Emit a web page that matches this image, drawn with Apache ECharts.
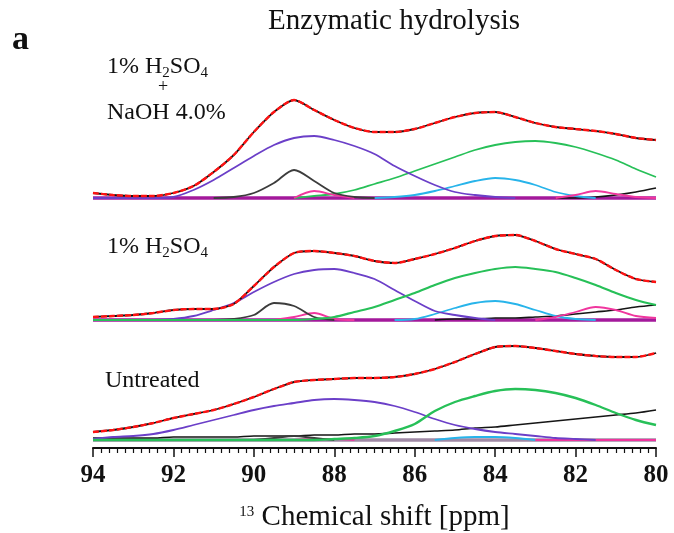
<!DOCTYPE html>
<html>
<head>
<meta charset="utf-8">
<script src="https://cdn.jsdelivr.net/npm/echarts@6/dist/echarts.min.js"></script>
<style>
  html, body { margin: 0; padding: 0; background: #fff; }
  #chart { width: 674px; height: 533px; }
</style>
</head>
<body>
<div id="chart"></div>
<script>
// Chemical shift grid (ppm), shared by every spectrum
const ppm = [94, 93.5, 93, 92.5, 92, 91.5, 91, 90.5, 90, 89.5, 89, 88.5, 88, 87.5, 87,
             86.5, 86, 85.5, 85, 84.5, 84, 83.5, 83, 82.5, 82, 81.5, 81, 80.5, 80];
const ppmTicks = [94, 92, 90, 88, 86, 84, 82, 80];

// 1% H2SO4 + NaOH 4.0%
const fitAcidAlkali    = [5, 3, 2, 2, 5, 12, 26, 43, 66, 86, 98, 88, 78, 70, 66, 66, 69, 75, 81, 85, 86, 81, 75, 71, 69, 67, 64, 60, 58];
const purpleAcidAlkali = [0, 0, 0, 0, 1, 8, 18, 30, 42, 53, 60, 62, 58, 52, 44, 32, 22, 13, 6, 3, 1, 0, null, null, null, null, null, null, null];
const blackAcidAlkali  = [null, null, null, null, null, null, 0, 1, 5, 15, 28, 17, 5, 1, 0, null, null, null, null, null, null, null, null, null, null, null, null, null, null];
const pinkAcidAlkali   = [null, null, null, null, null, null, null, null, null, null, 0, 7, 3, 0, null, null, null, null, null, null, null, null, null, 0, 3, 7, 4, 1, 0];
const greenAcidAlkali  = [null, null, null, null, null, null, null, null, null, null, 0, 2, 4, 8, 14, 20, 27, 34, 41, 48, 53, 56, 57, 55, 51, 45, 38, 29, 21];
const cyanAcidAlkali   = [null, null, null, null, null, null, null, null, null, null, null, null, null, null, 0, 1, 3, 7, 12, 17, 20, 18, 13, 6, 2, 0, null, null, null];
const driftAcidAlkali  = [null, null, null, null, null, null, null, null, null, null, null, null, null, null, null, null, null, null, null, null, null, null, null, 0, 0, 1, 3, 6, 10];

// 1% H2SO4
const fitAcid    = [3, 4, 5, 7, 10, 11, 11, 16, 34, 53, 67, 69, 67, 64, 59, 57, 61, 66, 72, 79, 84, 85, 79, 71, 66, 61, 50, 41, 38];
const purpleAcid = [null, null, null, 0, 1, 4, 10, 17, 28, 38, 46, 50, 51, 47, 41, 30, 19, 9, 5, 2, 0, null, null, null, null, null, null, null, null];
const blackAcid  = [null, null, null, null, null, null, 0, 1, 5, 17, 14, 3, 0, null, null, null, null, null, null, null, null, null, null, null, null, null, null, null, null];
const pinkAcid   = [null, null, null, null, null, null, null, null, null, 0, 3, 7, 1, 0, null, null, null, null, null, null, null, null, 0, 3, 8, 13, 10, 4, 2];
const greenAcid  = [0, 0, 0, 0, 0, 0, 0, 0, 0, 0, 0, 1, 3, 8, 13, 20, 27, 35, 42, 47, 51, 53, 51, 48, 42, 35, 27, 20, 15];
const cyanAcid   = [null, null, null, null, null, null, null, null, null, null, null, null, null, null, null, 0, 1, 6, 12, 17, 19, 16, 10, 4, 1, 0, null, null, null];
const driftAcid  = [null, null, null, null, null, null, null, null, null, null, null, null, null, null, null, null, null, 0, 1, 1, 2, 2, 3, 4, 6, 8, 10, 13, 15];

// Untreated
const fitUntreated    = [8, 10, 13, 17, 22, 26, 30, 36, 43, 51, 58, 60, 61, 62, 62, 63, 66, 71, 78, 86, 93, 94, 92, 89, 86, 84, 83, 83, 87];
const purpleUntreated = [1, 3, 4, 6, 10, 15, 20, 25, 30, 34, 37, 40, 41, 40, 38, 34, 28, 21, 15, 11, 8, 6, 4, 2, 1, 0, null, null, null];
const blackUntreated  = [null, null, null, null, null, null, null, null, 0, 2, 4, 2, 0, null, null, null, null, null, null, null, null, null, null, null, null, null, null, null, null];
const pinkUntreated   = [null, null, null, null, null, null, null, null, null, null, 0, 1, 1, 0, null, null, null, null, null, null, null, null, 0, 0, 0, 0, 0, 0, 0];
const greenUntreated  = [0, 0, 0, 0, 0, 0, 0, 0, 0, 0, 0, 0, 1, 2, 4, 9, 16, 29, 38, 44, 49, 51, 50, 47, 42, 35, 27, 20, 15];
const cyanUntreated   = [null, null, null, null, null, null, null, null, null, null, null, null, null, null, null, null, null, 0, 2, 3, 3, 2, 0, null, null, null, null, null, null];
const driftUntreated  = [2, 2, 2, 2, 3, 3, 3, 3, 4, 4, 4, 5, 5, 6, 6, 7, 8, 9, 10, 12, 13, 15, 17, 19, 21, 23, 25, 27, 30];

const SERIF = '"Liberation Serif", "Times New Roman", serif';
const C = {
  fit: '#ff1212', exp: '#111111', purple: '#6b3fc8', green: '#27c058',
  cyan: '#28b4ea', pink: '#f0369e', peak: '#3c3c3c', drift: '#151515'
};

function curve(panel, values, color, width, extra) {
  return Object.assign({
    type: 'line',
    xAxisIndex: panel,
    yAxisIndex: panel,
    data: ppm.map((p, i) => [p, values[i] == null ? '-' : values[i]]),
    symbol: 'none',
    showSymbol: false,
    smooth: 0.3,
    silent: true,
    animation: false,
    lineStyle: { color: color, width: width }
  }, extra || {});
}

function baseline(color) {
  return {
    markLine: {
      silent: true,
      z: 1,
      symbol: ['none', 'none'],
      label: { show: false },
      emphasis: { disabled: true },
      animation: false,
      lineStyle: { color: color, width: 3.5, type: 'solid' },
      data: [{ yAxis: 0 }]
    }
  };
}

function spectrum(panel, fit) {
  return [
    curve(panel, fit, C.exp, 1.8, { smooth: 0.25 }),
    curve(panel, fit, C.fit, 2.4, { smooth: 0.25, lineStyle: { color: C.fit, width: 2.4, type: [6, 2] } })
  ];
}

const series = [
  // top panel
  curve(0, driftAcidAlkali, C.drift, 1.6, baseline('#a3199b')),
  curve(0, cyanAcidAlkali, C.cyan, 1.8),
  curve(0, greenAcidAlkali, C.green, 1.8),
  curve(0, pinkAcidAlkali, C.pink, 1.8),
  curve(0, blackAcidAlkali, C.peak, 1.8),
  curve(0, purpleAcidAlkali, C.purple, 1.8),
  ...spectrum(0, fitAcidAlkali),
  // middle panel
  curve(1, driftAcid, C.drift, 1.6, baseline('#a3199b')),
  curve(1, cyanAcid, C.cyan, 1.8),
  curve(1, pinkAcid, C.pink, 1.8),
  curve(1, blackAcid, C.peak, 1.8),
  curve(1, purpleAcid, C.purple, 1.8),
  curve(1, greenAcid, C.green, 2.2),
  ...spectrum(1, fitAcid),
  // bottom panel
  curve(2, driftUntreated, C.drift, 1.6, baseline('#a08aa6')),
  curve(2, cyanUntreated, C.cyan, 1.8),
  curve(2, pinkUntreated, C.pink, 1.8),
  curve(2, blackUntreated, C.peak, 1.8),
  curve(2, purpleUntreated, C.purple, 1.8),
  curve(2, greenUntreated, C.green, 2.4),
  ...spectrum(2, fitUntreated)
];

const hiddenX = (i) => ({
  type: 'value', gridIndex: i, min: 80, max: 94, inverse: true, show: false
});

const panelGrid = (top) => ({
  left: 93, right: 18, top: top, height: 112, containLabel: false, outerBoundsMode: 'none'
});

const option = {
  backgroundColor: '#fff',
  animation: false,
  grid: [panelGrid(88), panelGrid(210), panelGrid(336)],
  xAxis: [
    hiddenX(0),
    hiddenX(1),
    {
      type: 'value', gridIndex: 2, min: 80, max: 94, interval: 2, inverse: true,
      axisLine: { show: true, onZero: false, lineStyle: { color: '#111', width: 2 } },
      axisTick: { show: true, inside: false, length: 9, lineStyle: { color: '#111', width: 1.5 } },
      minorTick: { show: true, splitNumber: 10, length: 5, lineStyle: { color: '#111', width: 1.2 } },
      splitLine: { show: false },
      axisLabel: {
        margin: 15, color: '#111', fontFamily: SERIF, fontSize: 25, fontWeight: 'bold',
        formatter: (v) => (ppmTicks.includes(v) ? String(v) : '')
      },
      name: '{sup|13} Chemical shift [ppm]',
      nameLocation: 'middle',
      nameGap: 55,
      nameTextStyle: {
        color: '#111', fontFamily: SERIF, fontSize: 29,
        rich: { sup: { fontFamily: SERIF, fontSize: 15, color: '#111', padding: [0, 0, 11, 0] } }
      }
    }
  ],
  yAxis: [
    { type: 'value', gridIndex: 0, min: -2, max: 110, show: false },
    { type: 'value', gridIndex: 1, min: -2, max: 110, show: false },
    { type: 'value', gridIndex: 2, min: -8, max: 104, show: false }
  ],
  graphic: [
    { type: 'text', x: 12, y: 40, style: { text: 'a', font: 'bold 34px ' + SERIF, fill: '#111', align: 'left', verticalAlign: 'middle' } },
    { type: 'text', x: 394, y: 21, style: { text: 'Enzymatic hydrolysis', font: '29px ' + SERIF, fill: '#111', align: 'center', verticalAlign: 'middle' } },
    { type: 'text', x: 107, y: 67, style: {
        text: '1% H{sub|2}SO{sub|4}', font: '24px ' + SERIF, fill: '#111', align: 'left', verticalAlign: 'middle',
        rich: { sub: { fontFamily: SERIF, fontSize: 15, fill: '#111', padding: [12, 0, 0, 0] } } } },
    { type: 'text', x: 163, y: 87, style: { text: '+', font: '18px ' + SERIF, fill: '#111', align: 'center', verticalAlign: 'middle' } },
    { type: 'text', x: 107, y: 113, style: { text: 'NaOH 4.0%', font: '24px ' + SERIF, fill: '#111', align: 'left', verticalAlign: 'middle' } },
    { type: 'text', x: 107, y: 247, style: {
        text: '1% H{sub|2}SO{sub|4}', font: '24px ' + SERIF, fill: '#111', align: 'left', verticalAlign: 'middle',
        rich: { sub: { fontFamily: SERIF, fontSize: 15, fill: '#111', padding: [12, 0, 0, 0] } } } },
    { type: 'text', x: 105, y: 381, style: { text: 'Untreated', font: '24px ' + SERIF, fill: '#111', align: 'left', verticalAlign: 'middle' } }
  ],
  series: series
};

const chart = echarts.init(document.getElementById('chart'), null, { renderer: 'canvas' });
chart.setOption(option);
</script>
</body>
</html>
